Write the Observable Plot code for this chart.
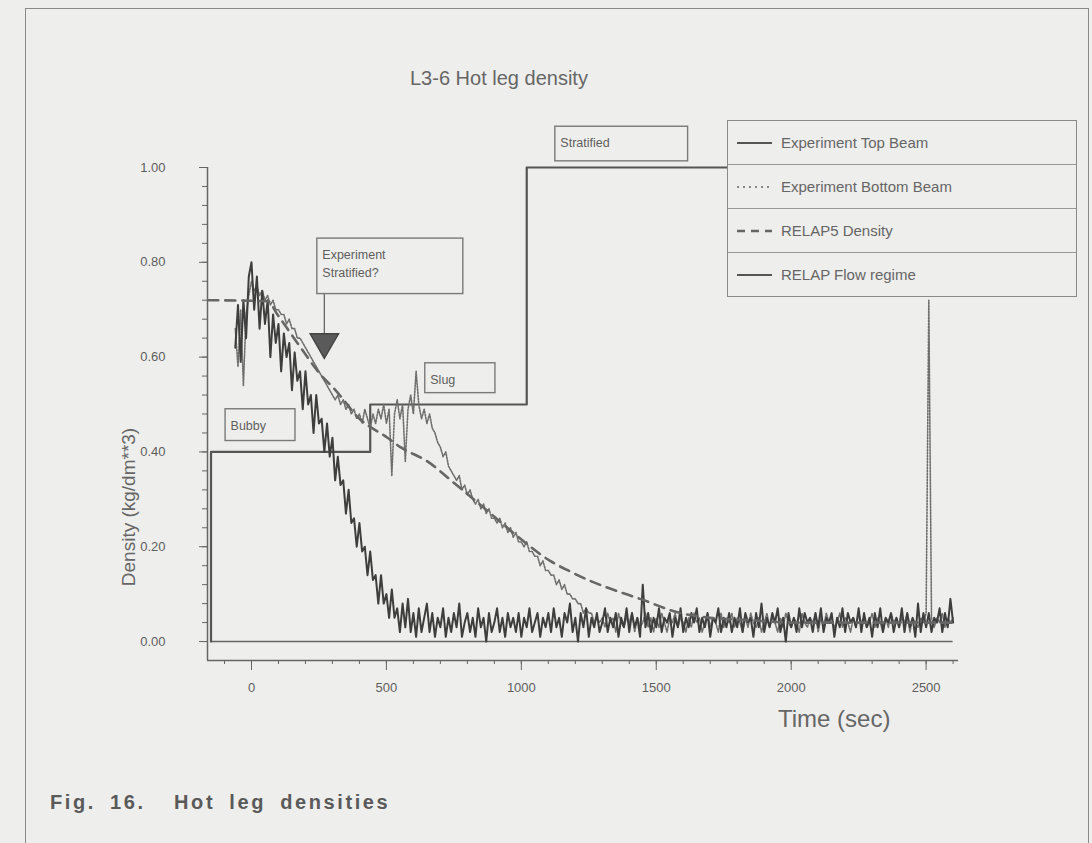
<!DOCTYPE html>
<html><head><meta charset="utf-8">
<script src="https://cdn.jsdelivr.net/npm/d3@7"></script>
<script src="https://cdn.jsdelivr.net/npm/@observablehq/plot@0.6"></script>
<style>
html,body{margin:0;padding:0;background:#eeeeec;}
body{width:1092px;height:843px;position:relative;overflow:hidden;font-family:"Liberation Sans",Arial,sans-serif;color:#666;}
#frame{position:absolute;left:25px;top:8px;width:1062px;height:900px;border:1.5px solid #8a8a8a;}
#chart{position:absolute;left:0;top:0;}
.t{position:absolute;white-space:pre;line-height:1;}
#title{left:410px;top:68px;font-size:20px;}
#ylab{left:128px;top:507px;font-size:19px;transform:translate(-50%,-50%) rotate(-90deg);}
#xlab{left:778px;top:707px;font-size:24px;}
#caption{left:50px;top:792px;font-weight:bold;font-size:20px;letter-spacing:2.6px;word-spacing:6px;color:#5a5a5a;}
#legend{position:absolute;left:727px;top:120px;width:348px;border:1.5px solid #8a8a8a;background:#eeeeec;}
.row{height:43px;display:flex;align-items:center;border-bottom:1.2px solid #999;font-size:15px;color:#666;}
.row:last-child{border-bottom:none;}
.row svg{margin-left:9px;margin-right:9px;}
</style></head>
<body>
<div id="frame"></div>
<div id="chart"></div>
<div class="t" id="title">L3-6 Hot leg density</div>
<div class="t" id="ylab">Density (kg/dm**3)</div>
<div class="t" id="xlab">Time (sec)</div>
<div id="legend"></div>
<div class="t" id="caption">Fig. 16.  Hot leg densities</div>
<script>
// ---- data (time in sec, density in kg/dm**3) ----
const beamStart = -60;
const beamStep = 10;
const topBeam = [
 0.62,0.71,0.59,0.72,0.64,0.77,
 0.80,0.70,0.77,0.66,0.74,0.67,0.72,0.60,0.69,0.63,
 0.67,0.57,0.65,0.60,0.63,0.53,0.61,0.55,0.57,0.49,
 0.57,0.50,0.52,0.44,0.52,0.46,0.47,0.40,0.46,0.39,
 0.43,0.34,0.39,0.33,0.34,0.27,0.32,0.25,0.26,0.20,
 0.25,0.19,0.20,0.14,0.19,0.13,0.14,0.08,0.14,0.08,
 0.10,0.05,0.11,0.05,0.07,0.02,0.08,0.03,0.09,0.02,
 0.06,0.01,0.07,0.02,0.05,0.08,0.02,0.06,0.01,0.05,
 0.03,0.07,0.01,0.05,0.02,0.06,0.03,0.08,0.01,0.04,
 0.06,0.02,0.05,0.01,0.07,0.03,0.05,0.00,0.06,0.02,
 0.04,0.07,0.02,0.05,0.01,0.06,0.03,0.05,0.02,0.06,
 0.01,0.05,0.03,0.07,0.02,0.04,0.06,0.01,0.05,0.03,
 0.06,0.02,0.07,0.03,0.05,0.01,0.06,0.04,0.08,0.02,
 0.05,0.00,0.06,0.03,0.07,0.01,0.05,0.03,0.06,0.02,
 0.04,0.07,0.02,0.05,0.03,0.06,0.01,0.05,0.03,0.07,
 0.02,0.06,0.03,0.05,0.01,0.12,0.03,0.06,0.02,0.05,
 0.03,0.07,0.02,0.05,0.04,0.06,0.01,0.05,0.03,0.07,
 0.02,0.05,0.03,0.06,0.04,0.07,0.02,0.05,0.03,0.06,
 0.01,0.05,0.04,0.07,0.02,0.05,0.03,0.06,0.02,0.05,
 0.03,0.07,0.02,0.06,0.04,0.05,0.01,0.06,0.03,0.08,
 0.02,0.05,0.03,0.06,0.04,0.07,0.02,0.05,0.00,0.06,
 0.03,0.05,0.02,0.07,0.03,0.06,0.04,0.05,0.02,0.06,
 0.03,0.07,0.02,0.05,0.04,0.06,0.01,0.05,0.03,0.07,
 0.02,0.06,0.04,0.05,0.03,0.07,0.02,0.06,0.03,0.05,
 0.01,0.06,0.03,0.07,0.02,0.05,0.04,0.06,0.02,0.05,
 0.03,0.07,0.02,0.06,0.03,0.05,0.01,0.08,0.02,0.06,
 0.03,0.06,0.02,0.05,0.04,0.07,0.02,0.06,0.03,0.09,
 0.04
];
const bottomBeam = [
 0.66,0.58,0.70,0.54,0.69,0.73,
 0.76,0.74,0.75,0.73,0.74,0.72,0.73,0.71,0.72,0.70,
 0.70,0.69,0.69,0.67,0.68,0.66,0.66,0.64,0.64,0.63,
 0.62,0.61,0.60,0.59,0.58,0.57,0.56,0.55,0.54,0.53,
 0.52,0.51,0.52,0.50,0.51,0.49,0.50,0.48,0.49,0.47,
 0.48,0.46,0.49,0.47,0.45,0.48,0.46,0.49,0.47,0.50,
 0.46,0.49,0.35,0.48,0.51,0.47,0.50,0.38,0.49,0.52,
 0.48,0.57,0.50,0.47,0.49,0.46,0.48,0.45,0.44,0.42,
 0.41,0.39,0.40,0.37,0.36,0.35,0.34,0.35,0.32,0.33,
 0.31,0.32,0.30,0.29,0.30,0.28,0.29,0.27,0.28,0.26,
 0.26,0.25,0.26,0.24,0.25,0.23,0.24,0.22,0.23,0.21,
 0.21,0.20,0.21,0.19,0.19,0.18,0.18,0.16,0.17,0.15,
 0.15,0.14,0.14,0.12,0.13,0.11,0.12,0.10,0.10,0.09,
 0.09,0.08,0.08,0.06,0.07,0.06,0.06,0.04,0.05,0.04,
 0.05,0.03,0.06,0.04,0.05,0.02,0.06,0.04,0.03,0.05,
 0.04,0.06,0.02,0.05,0.03,0.04,0.06,0.03,0.05,0.02,
 0.05,0.03,0.06,0.04,0.02,0.05,0.04,0.06,0.03,0.05,
 0.04,0.02,0.05,0.03,0.06,0.04,0.05,0.02,0.04,0.06,
 0.03,0.05,0.04,0.02,0.06,0.03,0.05,0.04,0.06,0.03,
 0.05,0.04,0.02,0.05,0.03,0.06,0.04,0.03,0.05,0.02,
 0.04,0.06,0.03,0.05,0.04,0.02,0.05,0.03,0.06,0.04,
 0.03,0.05,0.04,0.02,0.06,0.04,0.03,0.05,0.04,0.06,
 0.02,0.05,0.03,0.06,0.04,0.05,0.03,0.04,0.06,0.03,
 0.05,0.04,0.02,0.05,0.03,0.06,0.04,0.05,0.03,0.04,
 0.06,0.03,0.05,0.04,0.02,0.05,0.03,0.06,0.04,0.05,
 0.03,0.05,0.04,0.06,0.02,0.05,0.04,0.03,0.05,0.04,
 0.06,0.72,0.05,0.03,0.05,0.04,0.06,0.03,0.05,0.04,
 0.05
];
const relapTime    = [-160, 60, 96, 170, 267, 304, 400, 504, 552, 652, 760, 874, 990, 1107, 1180, 1255, 1318, 1440, 1590, 1700, 1850, 2000, 2300, 2600];
const relapDensity = [0.72, 0.718, 0.69, 0.63, 0.556, 0.535, 0.47, 0.43, 0.41, 0.38, 0.33, 0.276, 0.22, 0.17, 0.148, 0.128, 0.114, 0.09, 0.06, 0.05, 0.045, 0.04, 0.04, 0.04];
const flowTime    = [-150, -150, 440, 440, 1020, 1020, 2600];
const flowDensity = [0, 0.4, 0.4, 0.5, 0.5, 1.0, 1.0];
const zeroLineSpan = [-150, 2600];
const xMajorTicks = [0, 500, 1000, 1500, 2000, 2500];
const yMajorTicks = [0, 0.2, 0.4, 0.6, 0.8, 1.0];
const boxLabels = ["Bubby", "Experiment\nStratified?", "Slug", "Stratified"];
const boxT1 = [-96, 244, 644, 1126];
const boxT2 = [163, 785, 904, 1618];
const boxV1 = [0.423, 0.733, 0.524, 1.013];
const boxV2 = [0.49, 0.85, 0.587, 1.086];
const arrowTime = 270, arrowFrom = 0.733, arrowTo = 0.648, arrowHead = 0.632;
const legendNames = ["Experiment Top Beam", "Experiment Bottom Beam", "RELAP5 Density", "RELAP Flow regime"];
const xDomain = [-163, 2620];
const yDomain = [-0.04, 1.0];

// ---- build tables ----
const topData = topBeam.map((v, i) => ({t: beamStart + i * beamStep, v}));
const bottomData = bottomBeam.map((v, i) => ({t: beamStart + i * beamStep, v}));
const relapData = relapTime.map((t, i) => ({t, v: relapDensity[i]}));
const flowData = flowTime.map((t, i) => ({t, v: flowDensity[i]}));
const boxes = boxLabels.map((label, i) => ({label, t1: boxT1[i], t2: boxT2[i], v1: boxV1[i], v2: boxV2[i]}));

const ink = "#555";
const chart = Plot.plot({
  width: 1092, height: 760,
  marginLeft: 207, marginRight: 134, marginTop: 167, marginBottom: 100,
  style: {background: "transparent", color: "#5e5e5e", fontFamily: '"Liberation Sans",Arial,sans-serif', fontSize: "13px"},
  x: {domain: xDomain},
  y: {domain: yDomain},
  marks: [
    Plot.axisX({ticks: d3.range(-100, 2601, 100), tickSize: 4, text: null, stroke: "#666"}),
    Plot.axisX({ticks: xMajorTicks, tickSize: 10, tickPadding: 12, tickFormat: d => String(d), label: null, stroke: "#666"}),
    Plot.axisY({ticks: d3.range(0, 1.001, 0.04), tickSize: 5, text: null, stroke: "#666"}),
    Plot.axisY({ticks: yMajorTicks, tickSize: 8, tickPadding: 34, tickFormat: d3.format(".2f"), label: null, stroke: "#666"}),
    Plot.ruleX([xDomain[0]], {y1: yDomain[0], y2: yDomain[1], stroke: "#666", strokeWidth: 1.5}),
    Plot.ruleY([yDomain[0]], {x1: xDomain[0], x2: xDomain[1], stroke: "#666", strokeWidth: 1.5}),
    Plot.ruleY([0], {x1: zeroLineSpan[0], x2: zeroLineSpan[1], stroke: "#666", strokeWidth: 1.5}),
    Plot.line(flowData, {x: "t", y: "v", stroke: ink, strokeWidth: 2.2}),
    Plot.line(bottomData, {x: "t", y: "v", stroke: "#6e6e6e", strokeWidth: 1.6, strokeDasharray: "1.6,1.4"}),
    Plot.line(topData, {x: "t", y: "v", stroke: "#3e3e3e", strokeWidth: 2}),
    Plot.line(relapData, {x: "t", y: "v", stroke: "#666", strokeWidth: 2.6, strokeDasharray: "10,7", curve: "monotone-x"}),
    Plot.rect(boxes, {x1: "t1", x2: "t2", y1: "v1", y2: "v2", fill: "#eeeeec", fillOpacity: 0, stroke: "#7a7a7a", strokeWidth: 1.4}),
    Plot.text(boxes, {x: "t1", y: "v2", text: "label", textAnchor: "start", lineAnchor: "top", dx: 5, dy: 8, fontSize: 12.5, lineHeight: 1.4, fill: "#5e5e5e"}),
    Plot.link([{t: arrowTime}], {x1: "t", x2: "t", y1: () => arrowFrom, y2: () => arrowTo, stroke: "#666", strokeWidth: 1.3}),
    Plot.dot([{t: arrowTime, v: arrowHead}], {x: "t", y: "v", symbol: "triangle", r: 10.5, rotate: 180, fill: "#5a5a5a", stroke: "#444"})
  ]
});
document.getElementById("chart").appendChild(chart);

// ---- legend ----
const samples = [
  '<line x1="0" y1="5" x2="35" y2="5" stroke="#555" stroke-width="2"/>',
  '<line x1="0" y1="5" x2="35" y2="5" stroke="#666" stroke-width="1.6" stroke-dasharray="2,4"/>',
  '<line x1="0" y1="5" x2="35" y2="5" stroke="#666" stroke-width="2.4" stroke-dasharray="8,6"/>',
  '<line x1="0" y1="5" x2="35" y2="5" stroke="#555" stroke-width="2"/>'
];
const legend = document.getElementById("legend");
legendNames.forEach((name, i) => {
  const row = document.createElement("div");
  row.className = "row";
  row.innerHTML = '<svg width="35" height="10">' + samples[i] + '</svg><span>' + name + '</span>';
  legend.appendChild(row);
});
</script>
</body></html>
